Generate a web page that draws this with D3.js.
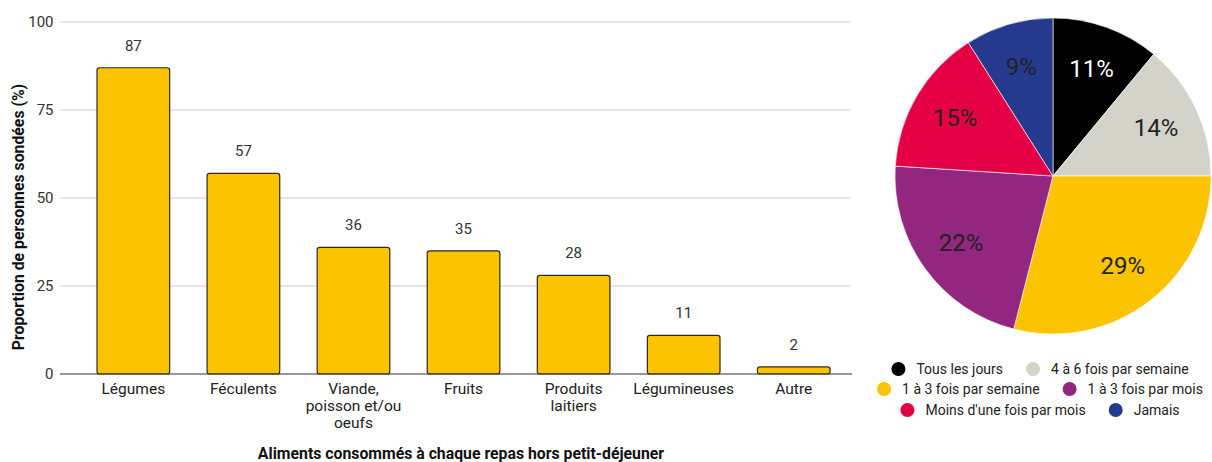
<!DOCTYPE html>
<html>
<head>
<meta charset="utf-8">
<script src="https://cdn.jsdelivr.net/npm/d3@7"></script>
<style>
  html, body { margin: 0; padding: 0; background: #fff; }
  svg { display: block; font-family: Roboto, "Noto Sans", sans-serif; }
</style>
</head>
<body>
<svg id="chart" width="1212" height="462"></svg>
<script>
// ---- Data ----
const barCategories = [["Légumes"], ["Féculents"], ["Viande,", "poisson et/ou", "oeufs"], ["Fruits"], ["Produits", "laitiers"], ["Légumineuses"], ["Autre"]];
const barValues = [87, 57, 36, 35, 28, 11, 2];
const yTicks = [0, 25, 50, 75, 100];
const xTitle = "Aliments consommés à chaque repas hors petit-déjeuner";
const yTitle = "Proportion de personnes sondées (%)";

const pieLabels = ["Tous les jours", "4 à 6 fois par semaine", "1 à 3 fois par semaine", "1 à 3 fois par mois", "Moins d'une fois par mois", "Jamais"];
const pieValues = [11, 14, 29, 22, 15, 9];
const pieColors = ["#000000", "#D3D3C9", "#FBC300", "#93267F", "#E50045", "#253A8E"];
const pieTextColors = ["#ffffff", "#222222", "#222222", "#222222", "#222222", "#222222"];
const legendRows = [[0, 1], [2, 3], [4, 5]];

const svg = d3.select("#chart");

// ---- Bar chart ----
const x = d3.scaleBand()
  .domain(barCategories.map((d, i) => i))
  .range([78.3, 848.8])
  .paddingInner(0.34)
  .paddingOuter(0.17);
const y = d3.scaleLinear().domain([0, 100]).range([374, 22]);

// gridlines
svg.append("g")
  .selectAll("line")
  .data(yTicks.filter(t => t !== 0))
  .join("line")
  .attr("x1", 60).attr("x2", 850)
  .attr("y1", d => y(d)).attr("y2", d => y(d))
  .attr("stroke", "#cccccc").attr("stroke-width", 1);

// y tick labels
svg.append("g")
  .selectAll("text")
  .data(yTicks)
  .join("text")
  .attr("x", 53.5)
  .attr("y", d => y(d))
  .attr("dy", "0.35em")
  .attr("text-anchor", "end")
  .attr("font-size", 15)
  .attr("fill", "#333")
  .text(d => d);

// bars
svg.append("g")
  .selectAll("rect")
  .data(barValues)
  .join("rect")
  .attr("x", (d, i) => x(i))
  .attr("width", x.bandwidth())
  .attr("y", d => y(d))
  .attr("height", d => y(0) - y(d))
  .attr("rx", 2.5)
  .attr("fill", "#FBC300")
  .attr("stroke", "#2a2a2a")
  .attr("stroke-width", 1.2);

// baseline
svg.append("line")
  .attr("x1", 60).attr("x2", 852)
  .attr("y1", y(0)).attr("y2", y(0))
  .attr("stroke", "#333").attr("stroke-width", 1.2);

// value labels
svg.append("g")
  .selectAll("text")
  .data(barValues)
  .join("text")
  .attr("x", (d, i) => x(i) + x.bandwidth() / 2)
  .attr("y", d => y(d) - 17)
  .attr("text-anchor", "middle")
  .attr("font-size", 15)
  .attr("fill", "#333")
  .text(d => d);

// x category labels
const xl = svg.append("g")
  .selectAll("text")
  .data(barCategories)
  .join("text")
  .attr("x", (d, i) => x(i) + x.bandwidth() / 2)
  .attr("y", 394)
  .attr("text-anchor", "middle")
  .attr("font-size", 15.5)
  .attr("fill", "#222");
xl.selectAll("tspan")
  .data(d => d)
  .join("tspan")
  .attr("x", function() { return d3.select(this.parentNode).attr("x"); })
  .attr("dy", (d, i) => i === 0 ? 0 : 17)
  .text(d => d);

// axis titles
svg.append("text")
  .attr("x", 461)
  .attr("y", 459)
  .attr("text-anchor", "middle")
  .attr("font-size", 15.8)
  .attr("font-weight", "bold")
  .attr("fill", "#111")
  .text(xTitle);

svg.append("text")
  .attr("transform", "translate(24,217) rotate(-90)")
  .attr("text-anchor", "middle")
  .attr("font-size", 15.8)
  .attr("font-weight", "bold")
  .attr("fill", "#111")
  .text(yTitle);

// ---- Pie chart ----
const cx = 1053, cy = 176, R = 158;
const pie = d3.pie().sort(null).value(d => d)(pieValues);
const arc = d3.arc().innerRadius(0).outerRadius(R);
const labelArc = d3.arc().innerRadius(R * 0.72).outerRadius(R * 0.72);
const pg = svg.append("g").attr("transform", `translate(${cx},${cy})`);
pg.selectAll("path")
  .data(pie)
  .join("path")
  .attr("d", arc)
  .attr("fill", (d, i) => pieColors[i])
  .attr("stroke", "#ffffff")
  .attr("stroke-width", 0.6);
pg.selectAll("text")
  .data(pie)
  .join("text")
  .attr("transform", d => `translate(${labelArc.centroid(d)})`)
  .attr("text-anchor", "middle")
  .attr("dy", "0.35em")
  .attr("font-size", 24)
  .attr("fill", (d, i) => pieTextColors[i])
  .text(d => d.value + "%");

// ---- Legend ----
const legendCenter = 1040;
const rowY = [369, 389, 410];
const lg = svg.append("g");
legendRows.forEach((row, r) => {
  const g = lg.append("g");
  let cursor = 0;
  row.forEach((idx, k) => {
    const item = g.append("g").attr("transform", `translate(${cursor},0)`);
    item.append("circle").attr("cx", 7).attr("cy", 0).attr("r", 7).attr("fill", pieColors[idx]);
    const t = item.append("text")
      .attr("x", 25).attr("y", 0).attr("dy", "0.35em")
      .attr("font-size", 14).attr("fill", "#222")
      .text(pieLabels[idx]);
    const w = t.node().getComputedTextLength();
    cursor += 25 + w + (k < row.length - 1 ? 23 : 0);
  });
  g.attr("transform", `translate(${legendCenter - cursor / 2},${rowY[r]})`);
});
</script>
</body>
</html>
